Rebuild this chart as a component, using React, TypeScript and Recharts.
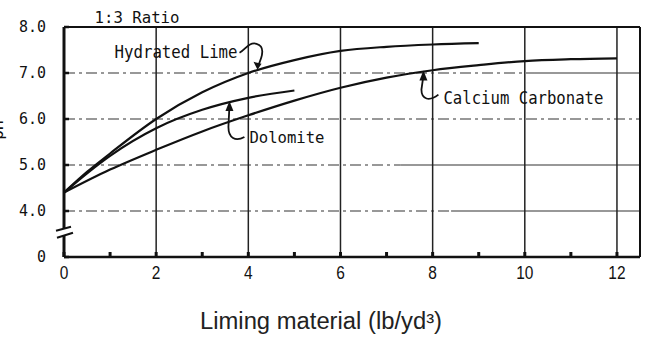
import { LineChart, Line, XAxis, YAxis, ReferenceLine, ReferenceDot } from 'recharts';

// lb/yd3 of liming material vs. resulting pH, 1:3 ratio
const HYDRATED_RATE = [0, 0.5, 1, 2, 3, 4, 5, 6, 7, 8, 9];
const HYDRATED_PH = [4.4, 4.85, 5.25, 6.0, 6.58, 7.0, 7.28, 7.48, 7.57, 7.62, 7.65];

const DOLOMITE_RATE = [0, 0.5, 1, 2, 3, 4, 5];
const DOLOMITE_PH = [4.4, 4.82, 5.2, 5.8, 6.2, 6.46, 6.62];

const CARBONATE_RATE = [0, 1, 2, 3, 4, 5, 6, 7, 8, 9, 10, 11, 12];
const CARBONATE_PH = [4.4, 4.9, 5.33, 5.73, 6.08, 6.4, 6.68, 6.9, 7.06, 7.17, 7.26, 7.3, 7.32];

const X_TICKS = [0, 1, 2, 3, 4, 5, 6, 7, 8, 9, 10, 11, 12];
const X_GRID = [2, 4, 6, 8, 10, 12];
// 3 sits below the axis break and is printed as 0
const Y_TICKS = [3, 4, 5, 6, 7, 8];
const Y_GRID = [4, 5, 6, 7];
const Y_GRID_SOLID_FROM = [8.4, 7.3, 12.5, 10.2];

const X_MAX = 12.5;
const INK = '#111';
const MONO = '"DejaVu Sans Mono", "Liberation Mono", monospace';
const SANS = '"Liberation Sans", Arial, sans-serif';

const toSeries = (xs: number[], ys: number[]) => xs.map((x, i) => ({ rate: x, ph: ys[i] }));

const hydrated = toSeries(HYDRATED_RATE, HYDRATED_PH);
const dolomite = toSeries(DOLOMITE_RATE, DOLOMITE_PH);
const carbonate = toSeries(CARBONATE_RATE, CARBONATE_PH);

const XTick = (props: any) => {
  const { x, y, payload } = props;
  const v = payload.value as number;
  const s = String(v);
  return (
    <g>
      <line x1={x} y1={y} x2={x} y2={y - 5} stroke={INK} strokeWidth={3} />
      {v % 2 === 0 && (
        <text
          x={x}
          y={y + 22}
          textAnchor="middle"
          fontFamily={SANS}
          fontSize={18}
          textLength={s.length * 8.6}
          lengthAdjust="spacingAndGlyphs"
          fill={INK}
        >
          {s}
        </text>
      )}
    </g>
  );
};

const YTick = (props: any) => {
  const { x, y, payload } = props;
  const v = payload.value as number;
  const s = v === 3 ? '0' : v.toFixed(1);
  return (
    <g>
      <line x1={x} y1={y} x2={x + 5} y2={y} stroke={INK} strokeWidth={2.5} />
      <text
        x={x - 18}
        y={y + 5}
        textAnchor="end"
        fontFamily={MONO}
        fontSize={15}
        textLength={s.length * 9}
        lengthAdjust="spacingAndGlyphs"
        fill={INK}
      >
        {s}
      </text>
    </g>
  );
};

// break in the pH axis between 0 and 4.0
const AxisBreak = (props: any) => {
  const { cx, cy } = props;
  return (
    <g>
      <rect x={cx - 3} y={cy - 3} width={6} height={7} fill="#fff" />
      <line x1={cx - 8} y1={cy - 1} x2={cx + 7} y2={cy - 5} stroke={INK} strokeWidth={2} />
      <line x1={cx - 7} y1={cy + 6} x2={cx + 9} y2={cy + 1} stroke={INK} strokeWidth={2} />
    </g>
  );
};

const Typed = ({ x, y, w, size, anchor, children }: any) => (
  <text
    x={x}
    y={y}
    textAnchor={anchor || 'start'}
    fontFamily={MONO}
    fontSize={size}
    textLength={w}
    lengthAdjust="spacingAndGlyphs"
    fill={INK}
  >
    {children}
  </text>
);

const HydratedNote = (props: any) => {
  const { cx, cy } = props;
  return (
    <g transform={`translate(${cx},${cy})`}>
      <path d="M -18 -17 C -12 -20, -9 -28, -1 -26 C 7 -24, 6 -15, 0 -3" fill="none" stroke={INK} strokeWidth={1.8} />
      <polygon points="0,0 -4,-8 4,-6" fill={INK} />
      <Typed x={-20} y={-12} w={123} size={17} anchor="end">Hydrated Lime</Typed>
    </g>
  );
};

const DolomiteNote = (props: any) => {
  const { cx, cy } = props;
  return (
    <g transform={`translate(${cx},${cy})`}>
      <path d="M 0 4 L -1 25 C -1 36, 6 40, 15 35" fill="none" stroke={INK} strokeWidth={1.8} />
      <polygon points="0,-1 -4,9 4,9" fill={INK} />
      <Typed x={20} y={41} w={75} size={16}>Dolomite</Typed>
    </g>
  );
};

const CarbonateNote = (props: any) => {
  const { cx, cy } = props;
  return (
    <g transform={`translate(${cx},${cy})`}>
      <path d="M 0 4 L -2 18 C -2 28, 6 30, 15 23" fill="none" stroke={INK} strokeWidth={1.8} />
      <polygon points="0,-1 -4,9 4,9" fill={INK} />
      <Typed x={20} y={32} w={160} size={17}>Calcium Carbonate</Typed>
    </g>
  );
};

export default function App() {
  return (
    <div style={{ position: 'absolute', left: 0, top: 0, width: 645, height: 337, background: '#fff' }}>
      <LineChart width={645} height={337} margin={{ top: 27, right: 5, bottom: 0, left: 0 }}>
        <XAxis
          type="number"
          dataKey="rate"
          domain={[0, X_MAX]}
          ticks={X_TICKS}
          tick={<XTick />}
          tickSize={0}
          tickMargin={0}
          tickLine={false}
          height={80}
          axisLine={{ stroke: INK, strokeWidth: 2.5 }}
          allowDataOverflow
        />
        <YAxis
          type="number"
          dataKey="ph"
          domain={[3, 8]}
          ticks={Y_TICKS}
          tick={<YTick />}
          tickSize={0}
          tickMargin={0}
          tickLine={false}
          width={64}
          axisLine={{ stroke: INK, strokeWidth: 3 }}
          allowDataOverflow
        />

        {Y_GRID.map((y, i) => (
          <ReferenceLine
            key={`hd${y}`}
            segment={[{ x: 0, y }, { x: Y_GRID_SOLID_FROM[i], y }]}
            stroke="#333"
            strokeWidth={1.2}
            strokeDasharray="11 4 3 4"
          />
        ))}
        {Y_GRID.map((y, i) => (
          <ReferenceLine
            key={`hs${y}`}
            segment={[{ x: Y_GRID_SOLID_FROM[i], y }, { x: X_MAX, y }]}
            stroke="#333"
            strokeWidth={1.2}
          />
        ))}
        {X_GRID.map((x) => (
          <ReferenceLine key={`v${x}`} x={x} stroke="#222" strokeWidth={1.5} />
        ))}
        <ReferenceLine y={8} stroke={INK} strokeWidth={2.2} />
        <ReferenceLine x={X_MAX} stroke={INK} strokeWidth={2} />

        <Line data={hydrated} dataKey="ph" type="monotone" stroke={INK} strokeWidth={2.2} dot={false} isAnimationActive={false} />
        <Line data={dolomite} dataKey="ph" type="monotone" stroke={INK} strokeWidth={2.2} dot={false} isAnimationActive={false} />
        <Line data={carbonate} dataKey="ph" type="monotone" stroke={INK} strokeWidth={2.2} dot={false} isAnimationActive={false} />

        <ReferenceDot x={0} y={3.55} r={0} shape={<AxisBreak />} />
        <ReferenceDot x={4.2} y={7.07} r={0} shape={<HydratedNote />} />
        <ReferenceDot x={3.59} y={6.37} r={0} shape={<DolomiteNote />} />
        <ReferenceDot x={7.8} y={7.03} r={0} shape={<CarbonateNote />} />

        <Typed x={137} y={23} w={85} size={16} anchor="middle">1:3 Ratio</Typed>
        <text x={3} y={130} transform="rotate(-90 3 130)" textAnchor="middle" fontFamily={MONO} fontSize={16} fill={INK}>pH</text>
        <text x={321} y={329} textAnchor="middle" fontFamily={SANS} fontSize={23} textLength={242} lengthAdjust="spacingAndGlyphs" fill="#222">
          Liming material (lb/yd³)
        </text>
      </LineChart>
    </div>
  );
}
